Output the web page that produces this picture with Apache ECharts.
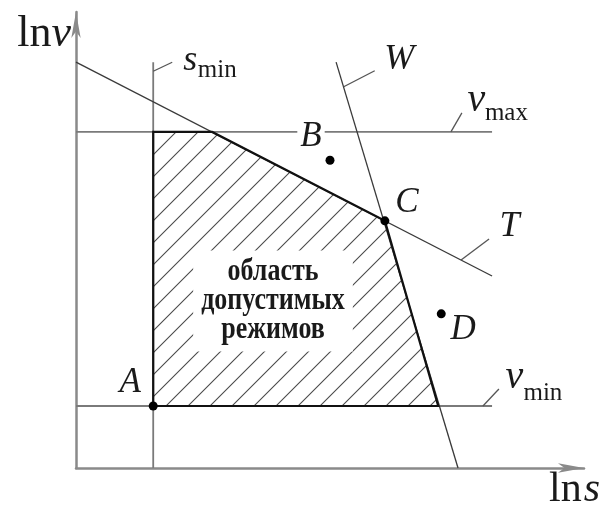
<!DOCTYPE html>
<html>
<head>
<meta charset="utf-8">
<script src="https://cdn.jsdelivr.net/npm/echarts@6/dist/echarts.min.js"></script>
<style>
  html, body { margin: 0; padding: 0; background: #fff; }
  #chart { width: 603px; height: 506px; }
</style>
</head>
<body>
<div id="chart"></div>
<script>
// Admissible operating region in log coordinates (ln s, ln v)

const xRange = [0, 10];
const yRange = [0, 10];

// constraint lines, end points in (ln s, ln v)
const sMinLine = [[1.52, 0], [1.52, 8.9]];
const vMaxLine = [[0, 7.37], [8.19, 7.37]];
const vMinLine = [[0, 1.36], [8.19, 1.36]];
const tLine = [[0, 8.9], [8.19, 4.21]];
const wLine = [[5.12, 8.9], [7.52, 0]];

// corners of the admissible region
const regionVertices = [[1.52, 1.36], [1.52, 7.37], [2.68, 7.37], [6.08, 5.42], [7.13, 1.36]];
const regionText = ['область', 'допустимых', 'режимов'];

// named operating points
const pointNames = ['A', 'B', 'C', 'D'];
const pointValues = [[1.52, 1.36], [5.0, 6.75], [6.08, 5.42], [7.19, 3.38]];

// line captions: where each leader touches its line, and the caption text
const noteAnchors = [[1.52, 8.70], [5.27, 8.36], [7.38, 7.37], [8.01, 1.36], [7.58, 4.56]];
const noteMain = ['s', 'W', 'v', 'v', 'T'];
const noteSub = ['min', '', 'max', 'min', ''];

// ---------------------------------------------------------------------------

const SERIF = '"Liberation Serif", "DejaVu Serif", "Times New Roman", serif';
const INK = '#1a1a1a';

// leader vectors and caption offsets, pixels from the anchor
const noteLayout = [
  { lead: [19, -9], main: [37, -11], sub: [64, -1], size: 36 },
  { lead: [31, -16], main: [55.5, -27.5], size: 36 },
  { lead: [11, -19], main: [25.5, -31], sub: [55.5, -18], size: 40 },
  { lead: [16, -17], main: [31.5, -28], sub: [60, -12.5], size: 40 },
  { lead: [28, -21], main: [48.5, -34], size: 36 }
];

const pointLabelOffsets = [[-23, -23], [-19, -23], [22, -18], [22, 16]];

// diagonal hatching tile
function makeHatch() {
  const size = 22;
  const c = document.createElement('canvas');
  c.width = size; c.height = size;
  const g = c.getContext('2d');
  g.strokeStyle = '#4a4a4a';
  g.lineWidth = 1.1;
  g.beginPath();
  g.moveTo(-1, size + 1); g.lineTo(size + 1, -1);
  g.moveTo(-size / 2 - 1, size / 2 + 1); g.lineTo(size / 2 + 1, -size / 2 - 1);
  g.moveTo(size / 2 - 1, size * 1.5 + 1); g.lineTo(size * 1.5 + 1, size / 2 - 1);
  g.stroke();
  return c;
}
const hatchTile = makeHatch();

function straight(data, color, width) {
  return {
    type: 'line',
    data: data,
    showSymbol: false,
    symbol: 'none',
    silent: true,
    animation: false,
    lineStyle: { color: color, width: width },
    z: 3
  };
}

const chart = echarts.init(document.getElementById('chart'), null, { renderer: 'canvas' });

chart.setOption({
  animation: false,
  backgroundColor: '#fff',
  grid: { left: 76, right: 19, top: 12, bottom: 38, outerBoundsMode: 'none' },
  xAxis: {
    type: 'value',
    min: xRange[0], max: xRange[1],
    axisLine: {
      show: true, onZero: false,
      symbol: ['none', 'arrow'], symbolSize: [7, 26],
      lineStyle: { color: '#8a8a8a', width: 2.5 }
    },
    axisTick: { show: false },
    axisLabel: { show: false },
    splitLine: { show: false },
    name: '{a|ln}{b|s}',
    nameLocation: 'end',
    nameGap: 16,
    nameTextStyle: {
      align: 'right', verticalAlign: 'top', padding: [1, 0, 0, 0],
      rich: {
        a: { fontFamily: SERIF, fontSize: 42, color: INK, padding: [0, 2, 0, 0] },
        b: { fontFamily: SERIF, fontSize: 42, fontStyle: 'italic', color: INK }
      }
    }
  },
  yAxis: {
    type: 'value',
    min: yRange[0], max: yRange[1],
    axisLine: {
      show: true, onZero: false,
      symbol: ['none', 'arrow'], symbolSize: [7, 26],
      lineStyle: { color: '#8a8a8a', width: 2.5 }
    },
    axisTick: { show: false },
    axisLabel: { show: false },
    splitLine: { show: false },
    name: '{a|ln}{b|v}',
    nameLocation: 'end',
    nameGap: 0,
    nameTextStyle: {
      align: 'right', verticalAlign: 'top', padding: [0, 5, 0, 0],
      rich: {
        a: { fontFamily: SERIF, fontSize: 44, color: INK },
        b: { fontFamily: SERIF, fontSize: 44, fontStyle: 'italic', color: INK }
      }
    }
  },
  series: [
    straight(sMinLine, '#7a7a7a', 1.8),
    straight(vMaxLine, '#7a7a7a', 1.8),
    straight(vMinLine, '#7a7a7a', 1.8),
    straight(tLine, '#3a3a3a', 1.3),
    straight(wLine, '#3a3a3a', 1.3),
    {
      // hatched admissible region with its boundary
      type: 'custom',
      coordinateSystem: 'cartesian2d',
      silent: true,
      data: [[0, 0]],
      z: 4,
      renderItem: function (params, api) {
        const pts = regionVertices.map(function (v) { return api.coord(v); });
        return {
          type: 'group',
          children: [
            {
              type: 'polygon',
              shape: { points: pts },
              style: { fill: { type: 'pattern', image: hatchTile, repeat: 'repeat' }, stroke: null }
            },
            {
              type: 'polygon',
              shape: { points: pts },
              style: { fill: null, stroke: '#111', lineWidth: 2.2, lineJoin: 'miter' }
            }
          ]
        };
      }
    },
    {
      // captions of the constraint lines with their leaders
      type: 'custom',
      coordinateSystem: 'cartesian2d',
      silent: true,
      data: noteAnchors,
      z: 5,
      renderItem: function (params, api) {
        const i = params.dataIndex;
        const p = api.coord([api.value(0), api.value(1)]);
        const L = noteLayout[i];
        const children = [
          {
            type: 'line',
            shape: { x1: p[0], y1: p[1], x2: p[0] + L.lead[0], y2: p[1] + L.lead[1] },
            style: { stroke: '#555', lineWidth: 1.3 }
          },
          {
            type: 'text',
            x: p[0] + L.main[0], y: p[1] + L.main[1],
            style: {
              text: noteMain[i], fill: INK,
              font: 'italic ' + L.size + 'px ' + SERIF,
              align: 'center', verticalAlign: 'middle'
            }
          }
        ];
        if (noteSub[i]) {
          children.push({
            type: 'text',
            x: p[0] + L.sub[0], y: p[1] + L.sub[1],
            style: {
              text: noteSub[i], fill: INK,
              font: '25px ' + SERIF,
              align: 'center', verticalAlign: 'middle'
            }
          });
        }
        return { type: 'group', children: children };
      }
    },
    {
      // operating points A, B, C, D
      type: 'scatter',
      silent: true,
      z: 6,
      symbolSize: 9,
      itemStyle: { color: '#000', opacity: 1 },
      data: pointValues.map(function (v, i) {
        return {
          value: v,
          name: pointNames[i],
          label: { offset: pointLabelOffsets[i] }
        };
      }),
      label: {
        show: true,
        position: 'inside',
        formatter: '{b}',
        fontFamily: SERIF,
        fontStyle: 'italic',
        fontSize: 35,
        color: INK,
        opacity: 1,
        backgroundColor: '#fff',
        padding: [0, 3]
      }
    }
  ],
  graphic: [
    {
      type: 'text',
      x: 273, y: 301,
      scaleY: 1.2,
      z: 10,
      style: {
        text: regionText.join('\n'),
        font: 'bold 26px ' + SERIF,
        lineHeight: 24,
        fill: INK,
        align: 'center',
        verticalAlign: 'middle',
        backgroundColor: '#fff',
        padding: [6, 8]
      }
    }
  ]
});
</script>
</body>
</html>
